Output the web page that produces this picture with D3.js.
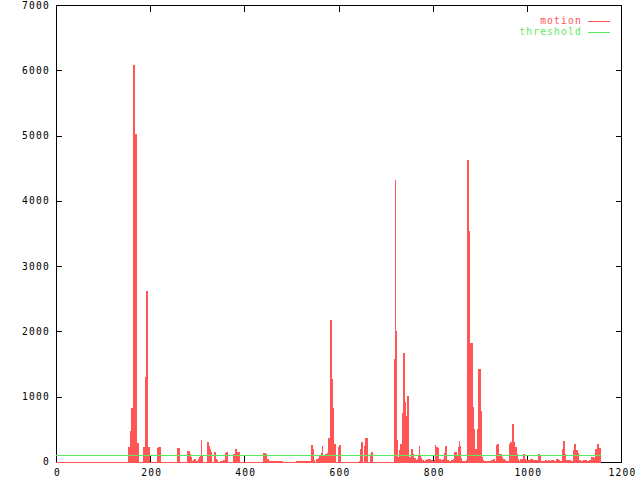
<!DOCTYPE html>
<html>
<head>
<meta charset="utf-8">
<script src="https://cdn.jsdelivr.net/npm/d3@7"></script>
<style>
  html, body { margin: 0; padding: 0; background: #fff; }
  text { font-family: "DejaVu Sans Mono", "Liberation Mono", monospace; font-size: 9.6px; letter-spacing: 1.2px; }
</style>
</head>
<body>
<div id="chart"></div>
<script>
// motion per frame, as step change points [frame, value]
const motion = [
  [0, 0],
  [155, 235], [159, 480], [161, 830], [164, 6080], [166, 1690], [168, 5020], [170, 390], [172, 235], [174, 296], [176, 0],
  [185, 235], [187, 165], [191, 1300], [193, 2620], [195, 235], [198, 0],
  [215, 214], [217, 230], [219, 184], [221, 230], [223, 0],
  [257, 20], [259, 214], [263, 0],
  [280, 168], [283, 122], [285, 77], [287, 5], [289, 20], [291, 31], [295, 46], [297, 20], [302, 46], [304, 80], [306, 92], [308, 337], [310, 92], [312, 0],
  [321, 311], [323, 245], [325, 143], [327, 199], [329, 153], [331, 0],
  [336, 153], [338, 51], [340, 31], [342, 15], [344, 0],
  [350, 15], [355, 31], [361, 137], [363, 153], [365, 0],
  [378, 117], [382, 194], [384, 153], [389, 0],
  [440, 138], [444, 112], [446, 122], [448, 31], [450, 41], [452, 15], [480, 0],
  [510, 15], [542, 260], [544, 204], [546, 31], [548, 0],
  [554, 41], [557, 66], [559, 97], [561, 31], [563, 133], [565, 245], [567, 40], [569, 102], [571, 40], [573, 128], [576, 138],
  [578, 362], [580, 245], [582, 153], [584, 2175], [586, 1275], [588, 827], [590, 276], [593, 0],
  [601, 230], [603, 260], [605, 0],
  [644, 15], [646, 199], [648, 306], [650, 0], [656, 245], [658, 368], [661, 0],
  [669, 122], [671, 153], [673, 0],
  [718, 1578], [720, 4320], [722, 2007], [724, 337], [726, 82], [729, 184], [731, 276], [733, 230], [735, 750], [737, 786],
  [739, 1670], [741, 919], [743, 705], [746, 1011], [748, 82], [754, 92], [756, 199], [758, 122], [760, 56], [763, 15],
  [765, 25], [767, 51], [769, 107], [771, 250], [773, 97], [775, 61], [777, 25], [780, 15], [784, 36], [786, 15],
  [788, 20], [790, 51], [792, 41], [794, 51], [796, 31], [799, 15], [803, 25], [805, 260], [807, 51], [809, 230],
  [811, 214], [813, 51], [816, 31], [818, 36], [820, 25], [822, 36], [824, 51], [826, 143], [828, 245], [830, 31],
  [833, 20], [835, 15], [839, 20], [841, 31], [843, 25], [845, 51], [847, 153], [850, 87], [854, 230], [856, 322],
  [858, 245], [860, 66], [862, 15], [869, 20], [871, 31], [873, 235], [875, 4627], [877, 3539], [879, 1440], [881, 1828],
  [884, 847], [886, 505], [888, 122], [890, 82], [892, 199], [894, 184], [896, 505], [898, 1425], [901, 781], [903, 82],
  [905, 25], [907, 15], [926, 31], [928, 15], [930, 41], [932, 15], [935, 260], [937, 276], [939, 128], [941, 31],
  [943, 71], [945, 122], [947, 71], [949, 51], [952, 31], [954, 15], [964, 276], [966, 311], [969, 582], [971, 311],
  [973, 15], [975, 230], [977, 199], [979, 122], [981, 41], [983, 15], [986, 51], [990, 31], [992, 122], [994, 71],
  [996, 51], [998, 31], [1007, 41], [1011, 15], [1013, 31], [1017, 15], [1019, 36], [1024, 122], [1026, 56], [1028, 92],
  [1030, 15], [1039, 31], [1041, 15], [1045, 31], [1049, 15], [1053, 31], [1056, 15], [1062, 31], [1064, 51], [1066, 41],
  [1068, 31], [1070, 15], [1075, 199], [1077, 327], [1079, 255], [1081, 122], [1083, 31], [1085, 15], [1087, 31], [1092, 15],
  [1100, 184], [1102, 276], [1104, 184], [1107, 138], [1109, 31], [1113, 15], [1121, 31], [1126, 15], [1134, 31], [1138, 71],
  [1141, 15], [1143, 56], [1145, 199], [1147, 158], [1149, 92], [1151, 276], [1153, 220], [1157, 0]
];

const threshold = 100;
const thresholdRange = [0, 1157];

const xTicks = [0, 200, 400, 600, 800, 1000, 1200];
const yTicks = [0, 1000, 2000, 3000, 4000, 5000, 6000, 7000];

const seriesNames = ['motion', 'threshold'];
const seriesColors = ['#ff5555', '#5ee85e'];

const width = 640, height = 480;
const plot = { left: 56, right: 621, top: 5, bottom: 462 };

const svg = d3.select('#chart')
    .append('svg')
    .attr('width', width)
    .attr('height', height)
    .style('display', 'block');

const x = d3.scaleLinear().domain([0, 1200]).range([plot.left, plot.right]);
const y = d3.scaleLinear().domain([0, 7000]).range([plot.bottom, plot.top]);

// border and tics (mirrored, pointing inward)
const frame = svg.append('g').attr('shape-rendering', 'crispEdges');

frame.append('rect')
    .attr('x', plot.left + 0.5)
    .attr('y', plot.top + 0.5)
    .attr('width', plot.right - plot.left)
    .attr('height', plot.bottom - plot.top)
    .attr('fill', 'none')
    .attr('stroke', '#000');

frame.append('g')
    .attr('transform', `translate(${plot.left},0)`)
    .call(d3.axisRight(y).tickValues(yTicks).tickSize(6).tickFormat(''))
    .call(g => g.select('.domain').remove());

frame.append('g')
    .attr('transform', `translate(${plot.right + 1},0)`)
    .call(d3.axisLeft(y).tickValues(yTicks).tickSize(6).tickFormat(''))
    .call(g => g.select('.domain').remove());

frame.append('g')
    .attr('transform', `translate(0,${plot.bottom})`)
    .call(d3.axisTop(x).tickValues(xTicks).tickSize(6).tickFormat(''))
    .call(g => g.select('.domain').remove());

frame.append('g')
    .attr('transform', `translate(0,${plot.top + 1})`)
    .call(d3.axisBottom(x).tickValues(xTicks).tickSize(6).tickFormat(''))
    .call(g => g.select('.domain').remove());

// tick labels (letter-spacing adds a trailing gap, so nudge right)
svg.append('g').selectAll('text')
    .data(yTicks)
    .join('text')
    .attr('x', 50)
    .attr('y', d => Math.max(y(d), 6))
    .attr('dy', '0.35em')
    .attr('text-anchor', 'end')
    .text(d => d);

svg.append('g').selectAll('text')
    .data(xTicks)
    .join('text')
    .attr('x', d => x(d) + 1.5)
    .attr('y', 473)
    .attr('dy', '0.35em')
    .attr('text-anchor', 'middle')
    .text(d => d);

// motion as filled steps
const area = d3.area()
    .curve(d3.curveStepAfter)
    .x(d => x(d[0]))
    .y0(y(0) + 1)
    .y1(d => y(d[1]));

const line = d3.line()
    .curve(d3.curveStepAfter)
    .x(d => x(d[0]))
    .y(d => Math.round(y(d[1])) + 0.5);

svg.append('path')
    .datum(motion)
    .attr('d', area)
    .attr('fill', seriesColors[0])
    .attr('shape-rendering', 'crispEdges');

svg.append('path')
    .datum(motion)
    .attr('d', line)
    .attr('fill', 'none')
    .attr('stroke', seriesColors[0])
    .attr('stroke-width', 1)
    .attr('shape-rendering', 'crispEdges');

// threshold line
svg.append('line')
    .attr('x1', x(thresholdRange[0]))
    .attr('x2', x(thresholdRange[1]))
    .attr('y1', Math.round(y(threshold)) + 0.5)
    .attr('y2', Math.round(y(threshold)) + 0.5)
    .attr('stroke', seriesColors[1])
    .attr('stroke-width', 1)
    .attr('shape-rendering', 'crispEdges');

// key, top right
const key = svg.append('g');
seriesNames.forEach((name, i) => {
    const ky = 21 + i * 11;
    key.append('text')
        .attr('x', 582)
        .attr('y', ky)
        .attr('dy', '0.35em')
        .attr('text-anchor', 'end')
        .attr('fill', seriesColors[i])
        .text(name);
    key.append('line')
        .attr('x1', 588)
        .attr('x2', 610)
        .attr('y1', ky + 0.5)
        .attr('y2', ky + 0.5)
        .attr('stroke', seriesColors[i])
        .attr('shape-rendering', 'crispEdges');
});
</script>
</body>
</html>
